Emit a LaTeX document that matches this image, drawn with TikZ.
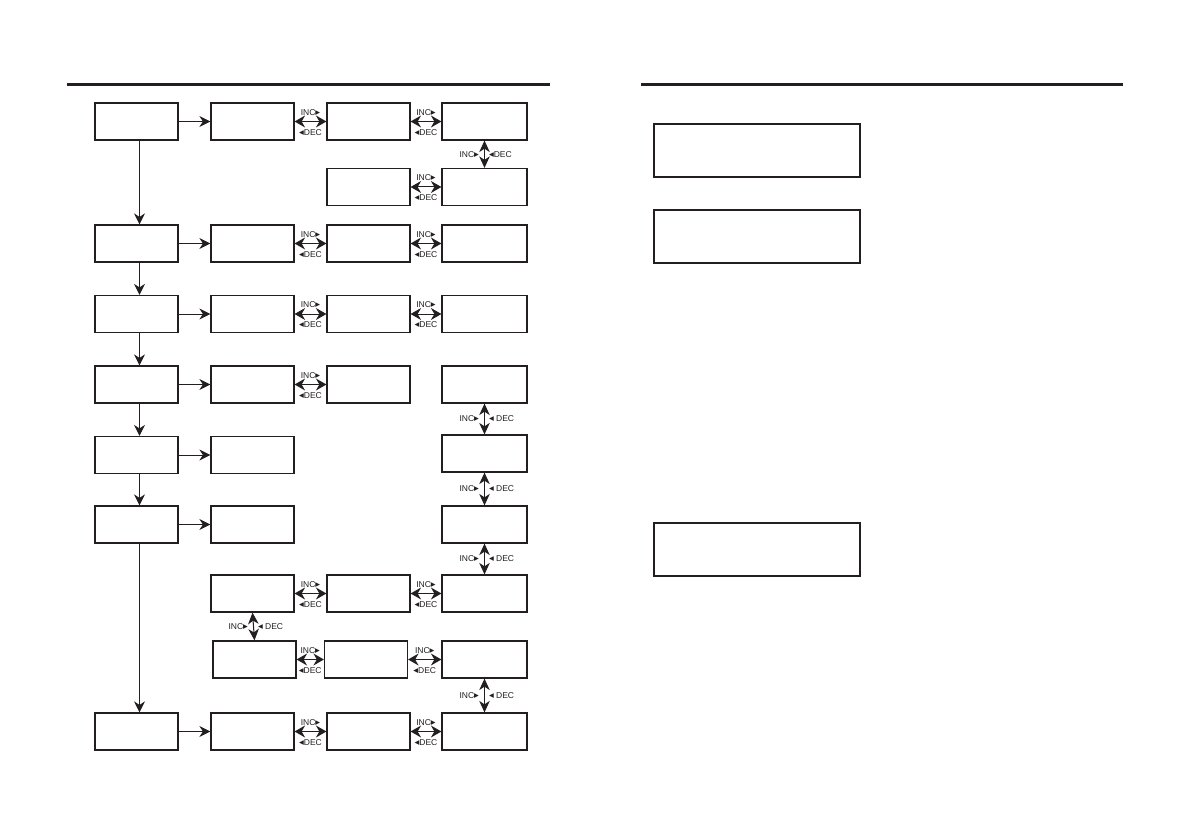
\documentclass[tikz,border=0pt]{standalone}
\usepackage{fontspec}
\usetikzlibrary{arrows.meta}
\newfontfamily\lab{Liberation Sans}
\newfontfamily\symf{DejaVu Sans}
\definecolor{ink}{HTML}{231F20}
\newcommand\rtri{{\symf\fontsize{9.5}{9.5}\selectfont ▸}}
\newcommand\ltri{{\symf\fontsize{9.5}{9.5}\selectfont ◂}}
\tikzset{
  box/.style={draw=ink, line width=1.2pt, minimum width=83pt, minimum height=37pt, inner sep=0pt},
  dbox/.style={box, minimum width=85pt},
  wbox/.style={draw=ink, line width=1.2pt, minimum width=206pt, minimum height=53pt, inner sep=0pt},
  lbl/.style={font=\fontsize{8.5}{9}\selectfont\lab, inner sep=0pt, text=ink},
  sd/.tip={Stealth[length=11pt, width=11pt, inset=3.5pt]},
  hd/.tip={Stealth[length=10.5pt, width=12pt, inset=3.5pt]},
  vd/.tip={Stealth[length=11.5pt, width=10.5pt, inset=3.5pt]},
  one/.style={draw=ink, line width=1pt, -{sd}},
  twoh/.style={draw=ink, line width=1pt, {hd}-{hd}},
  twov/.style={draw=ink, line width=1pt, {vd}-{vd}},
  rule/.style={draw=ink, line width=3pt},
}
\newcommand\hinc[2]{%
  \draw[twoh] (#1.east) -- (#2.west)
    node[midway, lbl, yshift=9pt] {INC\rtri}
    node[midway, lbl, yshift=-11pt] {\ltri DEC};}
\newcommand\vinc[3]{%
  \draw[twov] (#1.south) -- (#2.north)
    node[midway, lbl, anchor=east, xshift=-5pt] {INC\rtri}
    node[midway, lbl, anchor=west, xshift=4pt] {\ltri#3DEC};}
\begin{document}
\begin{tikzpicture}[x=1pt, y=-1pt]
\useasboundingbox (0,0) rectangle (1192,840);
\fill[white] (0,0) rectangle (1192,840);
% header rules
\coordinate (hl1) at (67,84.3);
\coordinate (hl2) at (550,84.3);
\coordinate (hr1) at (641,84.3);
\coordinate (hr2) at (1122.5,84.3);
\draw[rule] (hl1) -- (hl2);
\draw[rule] (hr1) -- (hr2);
% left column
\node[box] (A1) at (136.5,121.5) {};
\node[box] (A2) at (136.5,243.5) {};
\node[box] (A3) at (136.5,314) {};
\node[box] (A4) at (136.5,384.5) {};
\node[box] (A5) at (136.5,455) {};
\node[box] (A6) at (136.5,524.5) {};
\node[box] (A9) at (136.5,731.5) {};
% column B
\node[box] (B1) at (252.5,121.5) {};
\node[box] (B2) at (252.5,243.5) {};
\node[box] (B3) at (252.5,314) {};
\node[box] (B4) at (252.5,384.5) {};
\node[box] (B5) at (252.5,455) {};
\node[box] (B6) at (252.5,524.5) {};
\node[box] (B7) at (252.5,593.5) {};
\node[box] (B8) at (254.5,659.5) {};
\node[box] (B9) at (252.5,731.5) {};
% column C
\node[box] (C1) at (368.5,121.5) {};
\node[box] (C1b) at (368.5,187) {};
\node[box] (C2) at (368.5,243.5) {};
\node[box] (C3) at (368.5,314) {};
\node[box] (C4) at (368.5,384.5) {};
\node[box] (C7) at (368.5,593.5) {};
\node[box] (C8) at (366,659.5) {};
\node[box] (C9) at (368.5,731.5) {};
% column D
\node[dbox] (D1) at (484.5,121.5) {};
\node[dbox] (D1b) at (484.5,187) {};
\node[dbox] (D2) at (484.5,243.5) {};
\node[dbox] (D3) at (484.5,314) {};
\node[dbox] (D4) at (484.5,384.5) {};
\node[dbox] (D5) at (484.5,453.5) {};
\node[dbox] (D6) at (484.5,524.5) {};
\node[dbox] (D7) at (484.5,593.5) {};
\node[dbox] (D8) at (484.5,659.5) {};
\node[dbox] (D9) at (484.5,731.5) {};
% right page boxes
\node[wbox] (R1) at (757,150.5) {};
\node[wbox] (R2) at (757,236.5) {};
\node[wbox] (R3) at (757,549.5) {};
% left column vertical arrows
\draw[one] ([xshift=3pt]A1.south) -- ([xshift=3pt]A2.north);
\draw[one] ([xshift=3pt]A2.south) -- ([xshift=3pt]A3.north);
\draw[one] ([xshift=3pt]A3.south) -- ([xshift=3pt]A4.north);
\draw[one] ([xshift=3pt]A4.south) -- ([xshift=3pt]A5.north);
\draw[one] ([xshift=3pt]A5.south) -- ([xshift=3pt]A6.north);
\draw[one] ([xshift=3pt]A6.south) -- ([xshift=3pt]A9.north);
% A -> B arrows
\draw[one] (A1.east) -- (B1.west);
\draw[one] (A2.east) -- (B2.west);
\draw[one] (A3.east) -- (B3.west);
\draw[one] (A4.east) -- (B4.west);
\draw[one] (A5.east) -- (B5.west);
\draw[one] (A6.east) -- (B6.west);
\draw[one] (A9.east) -- (B9.west);
% horizontal INC/DEC
\hinc{B1}{C1}
\hinc{C1}{D1}
\hinc{C1b}{D1b}
\hinc{B2}{C2}
\hinc{C2}{D2}
\hinc{B3}{C3}
\hinc{C3}{D3}
\hinc{B4}{C4}
\hinc{B7}{C7}
\hinc{C7}{D7}
\hinc{B8}{C8}
\hinc{C8}{D8}
\hinc{B9}{C9}
\hinc{C9}{D9}
% vertical INC/DEC
\vinc{D1}{D1b}{}
\vinc{D4}{D5}{ }
\vinc{D5}{D6}{ }
\vinc{D6}{D7}{ }
\vinc{B7}{B8}{ }
\vinc{D8}{D9}{ }
\end{tikzpicture}
\end{document}
